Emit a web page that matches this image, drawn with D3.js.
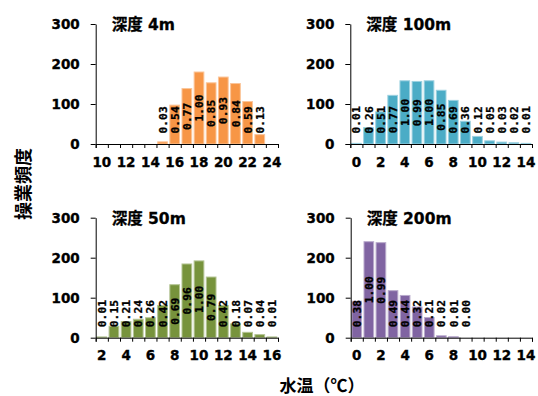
<!DOCTYPE html>
<html>
<head>
<meta charset="utf-8">
<script src="https://cdn.jsdelivr.net/npm/d3@7/dist/d3.min.js"></script>
<style>
  html, body { margin: 0; padding: 0; background: #fff; }
  svg { display: block; }
  .tick text { font-family: "DejaVu Sans", sans-serif; font-weight: bold; font-size: 13.5px; fill: #000; stroke: #000; stroke-width: 0.35px; }
</style>
</head>
<body>
<svg id="chart" width="538" height="396"></svg>
<script>
// Water temperature (°C) classes for each depth
const temps4m   = [10, 11, 12, 13, 14, 15, 16, 17, 18, 19, 20, 21, 22, 23, 24];
const temps100m = [0, 1, 2, 3, 4, 5, 6, 7, 8, 9, 10, 11, 12, 13, 14];
const temps50m  = [2, 3, 4, 5, 6, 7, 8, 9, 10, 11, 12, 13, 14, 15, 16];
const temps200m = [0, 1, 2, 3, 4, 5, 6, 7, 8, 9, 10, 11, 12, 13, 14];

// Relative fishing frequency (share of the peak class); null = no data
const ratio4m   = [null, null, null, null, null, 0.03, 0.54, 0.77, 1.00, 0.85, 0.93, 0.84, 0.59, 0.13, null];
const ratio100m = [0.01, 0.26, 0.51, 0.77, 1.00, 0.99, 1.00, 0.85, 0.69, 0.36, 0.12, 0.05, 0.03, 0.02, 0.01];
const ratio50m  = [0.01, 0.15, 0.21, 0.24, 0.26, 0.42, 0.69, 0.96, 1.00, 0.79, 0.42, 0.18, 0.07, 0.04, 0.01];
const ratio200m = [0.38, 1.00, 0.99, 0.49, 0.44, 0.32, 0.21, 0.02, 0.01, 0.00, null, null, null, null, null];

// Operation count of the peak class at each depth
const peak4m = 180, peak100m = 158, peak50m = 192, peak200m = 240;

const depthTitles = ["深度 4m", "深度 100m", "深度 50m", "深度 200m"];
const yTicks = [0, 100, 200, 300];
const yAxisTitle = "操業頻度";
const xAxisTitle = "水温（℃）";

const panels = [
  { title: depthTitles[0], temps: temps4m,   ratio: ratio4m,   peak: peak4m,   color: "#F79646", x0: 95.7,  x1: 278,   yTop: 24,    yBase: 144 },
  { title: depthTitles[1], temps: temps100m, ratio: ratio100m, peak: peak100m, color: "#4BACC6", x0: 350.3, x1: 532,   yTop: 24,    yBase: 144 },
  { title: depthTitles[2], temps: temps50m,  ratio: ratio50m,  peak: peak50m,  color: "#77933C", x0: 95.7,  x1: 278,   yTop: 217.7, yBase: 337.7 },
  { title: depthTitles[3], temps: temps200m, ratio: ratio200m, peak: peak200m, color: "#8064A2", x0: 350.7, x1: 532,   yTop: 217.7, yBase: 337.7 }
];

const svg = d3.select("#chart");
const fmt = d3.format(".2f");

panels.forEach(p => {
  const g = svg.append("g");
  const x = d3.scaleBand().domain(p.temps).range([p.x0, p.x1]).paddingInner(0.2).paddingOuter(0.1);
  const y = d3.scaleLinear().domain([0, 300]).range([p.yBase, p.yTop]);
  const n = p.temps.length;
  // boundary scale: category i spans [i, i+1]
  const xb = d3.scaleLinear().domain([0, n]).range([p.x0, p.x1]);

  const rows = p.temps.map((t, i) => ({ t, r: p.ratio[i], v: p.ratio[i] == null ? null : p.ratio[i] * p.peak }))
                      .filter(d => d.r != null);

  // bars
  const edge = d3.interpolateRgb(p.color, "#fff")(0.45);
  g.selectAll("rect.bar").data(rows).join("rect")
    .attr("class", "bar")
    .attr("x", d => x(d.t))
    .attr("width", x.bandwidth())
    .attr("y", d => y(d.v))
    .attr("height", d => p.yBase - y(d.v))
    .attr("fill", p.color)
    .attr("stroke", edge)
    .attr("stroke-width", 1);

  // y axis
  const ya = g.append("g").attr("transform", `translate(${p.x0},0)`)
    .call(d3.axisLeft(y).tickValues(yTicks).tickSize(5).tickSizeOuter(0).tickPadding(11));
  ya.selectAll("path, line").attr("stroke", "#000");

  // x axis line with tick marks at class boundaries
  const xa = g.append("g").attr("transform", `translate(0,${p.yBase})`)
    .call(d3.axisBottom(xb).tickValues(d3.range(n + 1)).tickSize(4).tickSizeOuter(4).tickFormat(""));
  xa.selectAll("path, line").attr("stroke", "#000");

  // x tick labels at even temperatures
  const xl = g.append("g").attr("transform", `translate(0,${p.yBase})`)
    .call(d3.axisBottom(x).tickValues(p.temps.filter(t => t % 2 === 0)).tickSize(0).tickPadding(13));
  xl.select(".domain").remove();

  // value labels, rotated, centred in the bar but kept off the axis
  const labels = g.selectAll("text.val").data(rows).join("text")
    .attr("class", "val")
    .attr("font-family", "DejaVu Sans Mono, monospace")
    .attr("font-weight", "bold")
    .attr("font-size", 11.3)
    .attr("stroke", "#000")
    .attr("stroke-width", 0.3)
    .attr("text-anchor", "middle")
    .attr("dy", "0.36em")
    .text(d => fmt(d.r));
  labels.each(function (d) {
    const len = this.getComputedTextLength();
    const cx = x(d.t) + x.bandwidth() / 2;
    const mid = (y(d.v) + p.yBase) / 2;
    const cy = Math.min(mid, p.yBase - 10.5 - len / 2);
    d3.select(this).attr("transform", `translate(${cx},${cy}) rotate(-90)`);
  });

  // panel title
  g.append("text")
    .attr("x", p.x0 + 16)
    .attr("y", p.yTop + 6.3)
    .attr("font-family", "DejaVu Sans, Noto Sans CJK JP, sans-serif")
    .attr("font-weight", "bold")
    .attr("font-size", 15.5)
    .attr("stroke", "#000")
    .attr("stroke-width", 0.3)
    .text(p.title);
});

// axis titles
svg.append("text")
  .attr("transform", "translate(23.5,184) rotate(-90)")
  .attr("text-anchor", "middle")
  .attr("dy", "0.36em")
  .attr("font-family", "Noto Sans CJK JP, sans-serif")
  .attr("font-weight", "bold")
  .attr("font-size", 18)
  .text(yAxisTitle);

svg.append("text")
  .attr("x", 322)
  .attr("y", 392)
  .attr("text-anchor", "middle")
  .attr("font-family", "Noto Sans CJK JP, sans-serif")
  .attr("font-weight", "bold")
  .attr("font-size", 17)
  .text(xAxisTitle);
</script>
</body>
</html>
